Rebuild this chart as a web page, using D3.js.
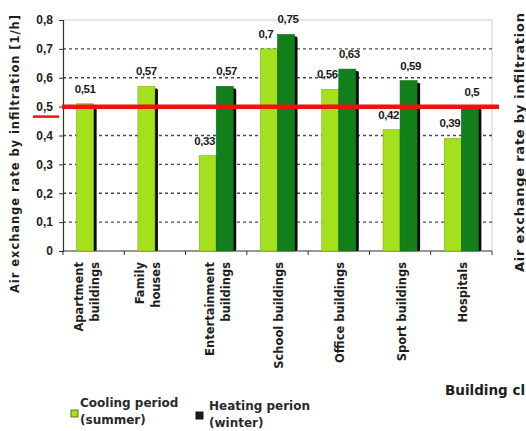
<!DOCTYPE html>
<html>
<head>
<meta charset="utf-8">
<script src="https://cdn.jsdelivr.net/npm/d3@7"></script>
<style>
  html, body { margin: 0; padding: 0; background: #ffffff; }
  svg { display: block; }
</style>
</head>
<body>
<svg id="chart" width="526" height="431"></svg>
<script>
// Building categories (multi-line labels)
const categories = [
  ["Apartment", "buildings"],
  ["Family", "houses"],
  ["Entertainment", "buildings"],
  ["School buildings"],
  ["Office buildings"],
  ["Sport buildings"],
  ["Hospitals"]
];
// Air exchange rate by infiltration [1/h]
const cooling = [0.51, 0.57, 0.33, 0.70, 0.56, 0.42, 0.39];
const heating = [null, null, 0.57, 0.75, 0.63, 0.59, 0.50];
const yTicks = [0, 0.1, 0.2, 0.3, 0.4, 0.5, 0.6, 0.7, 0.8];
const threshold = 0.5;
const seriesNames = ["Cooling period", "Heating perion"];
const seriesSub = ["(summer)", "(winter)"];

const colors = { cooling: "#a4e01c", heating: "#12801a", shadow: "#0a0a0a" };
const comma = v => String(v).replace(".", ",");

const svg = d3.select("#chart");
const plot = { left: 63, right: 492, top: 20, bottom: 251 };

const x0 = d3.scaleBand().domain(d3.range(categories.length)).range([plot.left, plot.right]);
const x1 = d3.scaleBand().domain(["cooling", "heating"]).range([0, x0.bandwidth()]).paddingOuter(0.8);
const y = d3.scaleLinear().domain([0, 0.8]).range([plot.bottom, plot.top]);

// plot frame (top and right)
svg.append("path")
  .attr("d", `M${plot.left},${plot.top}H${plot.right}V${plot.bottom}`)
  .attr("fill", "none").attr("stroke", "#cfcfcf").attr("stroke-width", 1);

// dotted gridlines
svg.append("g").selectAll("line")
  .data(yTicks.filter(t => t > 0 && t < 0.8))
  .join("line")
  .attr("x1", plot.left).attr("x2", plot.right)
  .attr("y1", d => y(d)).attr("y2", d => y(d))
  .attr("stroke", "#4a4a4a").attr("stroke-width", 1.3)
  .attr("stroke-dasharray", "3,3");

// y axis
const yAxis = svg.append("g")
  .attr("transform", `translate(${plot.left},0)`)
  .call(d3.axisLeft(y).tickValues(yTicks).tickFormat(comma).tickSize(4).tickPadding(6));
yAxis.select(".domain").attr("stroke", "#333").attr("stroke-width", 1.2);
yAxis.selectAll(".tick line").attr("stroke", "#333");
yAxis.selectAll(".tick text")
  .attr("font-family", "'Liberation Sans', Arial, sans-serif")
  .attr("font-weight", "bold").attr("font-size", 12).attr("fill", "#222");

// x axis with ticks at group boundaries
const xBounds = d3.range(categories.length + 1).map(i => i < categories.length ? x0(i) : plot.right);
const xAxisG = svg.append("g");
xAxisG.append("line")
  .attr("x1", plot.left).attr("x2", plot.right)
  .attr("y1", y(0)).attr("y2", y(0))
  .attr("stroke", "#333").attr("stroke-width", 1.2);
xAxisG.selectAll("line.tk").data(xBounds).join("line").attr("class", "tk")
  .attr("x1", d => d).attr("x2", d => d)
  .attr("y1", y(0)).attr("y2", y(0) + 4)
  .attr("stroke", "#333");

// bars with drop shadow
const bars = [];
categories.forEach((c, i) => {
  if (cooling[i] != null) bars.push({ i, key: "cooling", v: cooling[i] });
  if (heating[i] != null) bars.push({ i, key: "heating", v: heating[i] });
});
const bw = x1.bandwidth();
const barG = svg.append("g");
bars.forEach(b => {
  const bx = x0(b.i) + x1(b.key);
  barG.append("rect")
    .attr("x", bx + 3).attr("y", y(b.v) + 2)
    .attr("width", bw).attr("height", y(0) - y(b.v) - 2)
    .attr("rx", 1.5).attr("fill", colors.shadow);
  barG.append("rect")
    .attr("x", bx).attr("y", y(b.v))
    .attr("width", bw).attr("height", y(0) - y(b.v))
    .attr("fill", colors[b.key])
    .attr("stroke", b.key === "cooling" ? "#7fb012" : "#0f6e14")
    .attr("stroke-width", 0.6);
});

// value labels
svg.append("g").selectAll("text").data(bars).join("text")
  .attr("x", b => x0(b.i) + x1(b.key) + bw / 2 + (b.key === "cooling" && heating[b.i] != null ? -3 : (b.key === "heating" ? 2 : 0)))
  .attr("y", b => y(b.v) - 11)
  .attr("text-anchor", "middle")
  .attr("font-family", "'Liberation Sans', Arial, sans-serif")
  .attr("font-weight", "bold").attr("font-size", 11.5)
  .attr("letter-spacing", -0.4)
  .attr("fill", "#1a1a1a")
  .text(b => comma(b.v));

// threshold line
svg.append("line")
  .attr("x1", plot.left - 1).attr("x2", plot.right + 7)
  .attr("y1", y(threshold)).attr("y2", y(threshold))
  .attr("stroke", "#f01010").attr("stroke-width", 4.5);
svg.append("line")
  .attr("x1", 33).attr("x2", 59)
  .attr("y1", y(threshold) + 10).attr("y2", y(threshold) + 10)
  .attr("stroke", "#f01010").attr("stroke-width", 2.5);

// category labels, rotated, centred on each group's bars
const catG = svg.append("g");
categories.forEach((lines, i) => {
  const present = bars.filter(b => b.i === i);
  const cx = d3.mean(present, b => x0(b.i) + x1(b.key) + bw / 2 + 1.5);
  const lh = 16;
  lines.forEach((t, k) => {
    const lx = cx + (k - (lines.length - 1) / 2) * lh + 4;
    catG.append("text")
      .attr("transform", `translate(${lx},${y(0) + 11}) rotate(-90)`)
      .attr("text-anchor", "end")
      .attr("font-family", "'DejaVu Sans', Verdana, sans-serif")
      .attr("font-weight", "bold").attr("font-size", 11.5)
      .attr("fill", "#1e1e1e")
      .text(t);
  });
});

// y axis title
svg.append("text")
  .attr("transform", "translate(19,293) rotate(-90)")
  .attr("font-family", "'DejaVu Sans', Verdana, sans-serif")
  .attr("font-weight", "bold").attr("font-size", 11.5)
  .attr("textLength", 278).attr("lengthAdjust", "spacing")
  .attr("fill", "#1e1e1e")
  .text("Air exchange rate by infiltration [1/h]");

// neighbouring panel titles at the right edge
svg.append("text")
  .attr("transform", "translate(524,272) rotate(-90)")
  .attr("font-family", "'DejaVu Sans', Verdana, sans-serif")
  .attr("font-weight", "bold").attr("font-size", 13)
  .attr("textLength", 259).attr("lengthAdjust", "spacing")
  .attr("fill", "#1e1e1e")
  .text("Air exchange rate by infiltration");
svg.append("text")
  .attr("x", 445).attr("y", 395)
  .attr("font-family", "'DejaVu Sans', Verdana, sans-serif")
  .attr("font-weight", "bold").attr("font-size", 13.5)
  .attr("fill", "#1e1e1e")
  .text("Building cl");

// legend
const legend = [
  { key: "cooling", sx: 71, sy: 410, tx: 80, ty: 407, fill: colors.cooling, stroke: "#5d7a10" },
  { key: "heating", sx: 196, sy: 412, tx: 209, ty: 410, fill: "#1c1c1c", stroke: "#111" }
];
legend.forEach((l, i) => {
  svg.append("rect").attr("x", l.sx).attr("y", l.sy).attr("width", 7).attr("height", 7)
    .attr("fill", l.fill).attr("stroke", l.stroke).attr("stroke-width", 1);
  const t = svg.append("text")
    .attr("font-family", "'DejaVu Sans', Verdana, sans-serif")
    .attr("font-weight", "bold").attr("font-size", 12).attr("fill", "#2a2a2a");
  t.append("tspan").attr("x", l.tx).attr("y", l.ty).text(seriesNames[i]);
  t.append("tspan").attr("x", l.tx).attr("y", l.ty + 17).text(seriesSub[i]);
});
</script>
</body>
</html>
